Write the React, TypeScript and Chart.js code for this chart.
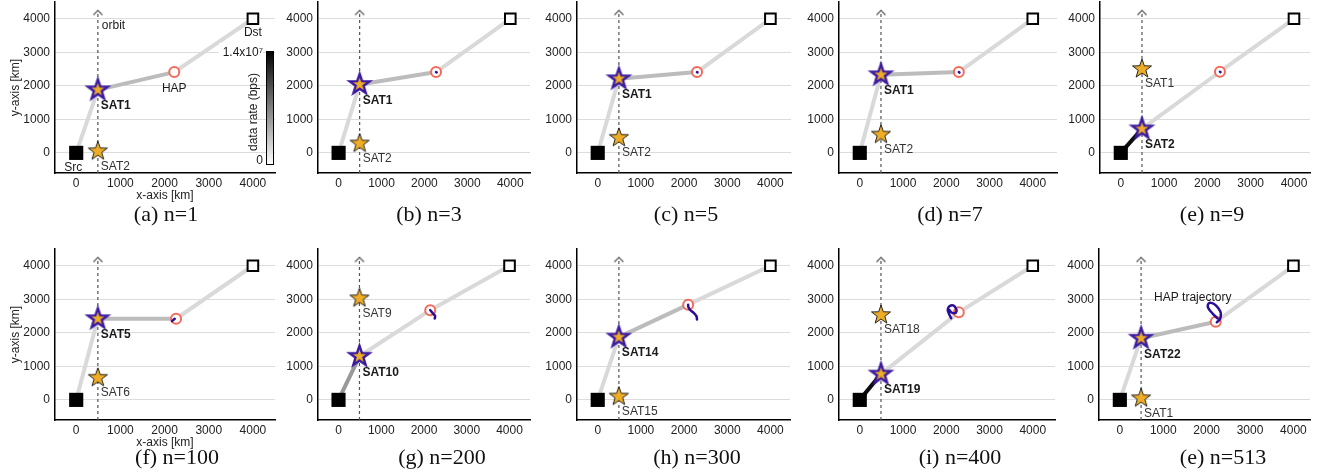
import React, { useEffect, useRef } from 'react';
import { Chart, registerables } from 'chart.js';
Chart.register(...registerables);

// ---------------- data ----------------
const captions = ['(a) n=1', '(b) n=3', '(c) n=5', '(d) n=7', '(e) n=9', '(f) n=100', '(g) n=200', '(h) n=300', '(i) n=400', '(e) n=513'];
const servingSatNames = ['SAT1', 'SAT1', 'SAT1', 'SAT1', 'SAT2', 'SAT5', 'SAT10', 'SAT14', 'SAT19', 'SAT22'];
const servingSatY = [1880, 2040, 2210, 2330, 715, 2420, 1300, 1870, 770, 1840];
const otherSatNames = ['SAT2', 'SAT2', 'SAT2', 'SAT2', 'SAT1', 'SAT6', 'SAT9', 'SAT15', 'SAT18', 'SAT1'];
const otherSatY = [50, 280, 450, 545, 2500, 660, 3030, 100, 2530, 50];
const hapX = [2220, 2270, 2300, 2290, 2290, 2260, 2145, 2095, 2290, 2210];
const hapY = [2410, 2410, 2410, 2410, 2420, 2420, 2675, 2840, 2610, 2330];
const trajX = [
  [],
  [2270, 2285],
  [2300, 2312],
  [2290, 2305],
  [2290, 2302],
  [2171, 2230],
  [2145, 2178, 2222, 2260, 2250],
  [2094, 2100, 2147, 2224, 2286, 2300],
  [2113, 2058, 2035, 2081, 2159, 2220, 2236, 2190, 2113, 2074],
  [2249, 2134, 2042, 2027, 2074, 2173, 2272, 2327, 2304, 2235],
];
const trajY = [
  [],
  [2410, 2400],
  [2410, 2400],
  [2410, 2395],
  [2420, 2410],
  [2350, 2420],
  [2675, 2625, 2560, 2500, 2430],
  [2840, 2771, 2674, 2594, 2497, 2400],
  [2433, 2582, 2701, 2799, 2820, 2740, 2641, 2582, 2612, 2680],
  [2433, 2582, 2731, 2829, 2898, 2859, 2731, 2582, 2403, 2314],
];
// link data rates (bps)
const srcLinkRate = [2.1e6, 2.1e6, 2.1e6, 2.1e6, 1.33e7, 2.1e6, 5.6e6, 2.1e6, 1.33e7, 2.1e6];
const satHapRate = [3.7e6, 3.7e6, 3.7e6, 3.7e6, 2.1e6, 3.7e6, 2.1e6, 3.7e6, 2.1e6, 3.7e6];
const hapDstRate = [2.1e6, 2.1e6, 2.1e6, 2.1e6, 2.1e6, 2.1e6, 2.1e6, 2.1e6, 2.1e6, 2.1e6];
const RATE_MAX = 1.4e7;
const colorbarLabels = ['1.4x10\u2077', '0'];
const xTicks = [0, 1000, 2000, 3000, 4000];
const yTicks = [0, 1000, 2000, 3000, 4000];
const SRC = { x: 0, y: 0 };
const DST = { x: 4000, y: 4000 };
const ORBIT_X = 490;
const ORBIT_TOP = 4250;

// ---------------- layout ----------------
const panelLeft = [55, 318, 577, 839, 1100, 55, 318, 577, 839, 1099];
const panelWidth = [220, 212, 214, 218, 210, 220, 212, 213, 216, 211];
const panelXMax = [4500, 4459, 4477, 4560, 4370, 4500, 4479, 4454, 4514, 4382];
const rowTop = [2, 249];
const PLOT_H = 171;
const X_MIN = -480;
const Y_MIN = -600;
const Y_MAX = 4500;
const Y_AXIS_W = 50;
const X_AXIS_H = 30;
const captionCX = [166, 429, 686, 950, 1212, 177, 442, 697, 960, 1223];
const captionCY = [214, 457];
const SANS = '"Liberation Sans", Arial, sans-serif';

function rateColor(r: number) {
  const v = Math.round(255 * (1 - Math.min(1, r / RATE_MAX)));
  return `rgb(${v},${v},${v})`;
}

function makeStar(R: number, ratio: number, fill: string, stroke: string, lw: number) {
  const pad = Math.ceil(lw * 2) + 2;
  const size = Math.ceil(2 * R + 2 * pad);
  const c = document.createElement('canvas');
  c.width = size;
  c.height = size;
  const g = c.getContext('2d')!;
  const cx = size / 2, cy = size / 2;
  g.beginPath();
  for (let k = 0; k < 10; k++) {
    const rr = k % 2 === 0 ? R : R * ratio;
    const a = -Math.PI / 2 + (k * Math.PI) / 5;
    const px = cx + rr * Math.cos(a), py = cy + rr * Math.sin(a);
    if (k === 0) g.moveTo(px, py); else g.lineTo(px, py);
  }
  g.closePath();
  g.fillStyle = fill;
  g.fill();
  g.lineWidth = lw;
  g.strokeStyle = stroke;
  g.lineJoin = 'miter';
  g.stroke();
  return c;
}

function makeArrow() {
  const c = document.createElement('canvas');
  c.width = 14;
  c.height = 14;
  const g = c.getContext('2d')!;
  g.strokeStyle = '#555';
  g.lineWidth = 1.2;
  g.beginPath();
  g.moveTo(2.5, 11.5);
  g.lineTo(7, 7);
  g.lineTo(11.5, 11.5);
  g.stroke();
  return c;
}

function buildChart(canvas: HTMLCanvasElement, i: number, imgs: any) {
  const pt = (x: number, y: number) => ({ x, y });
  const hap = pt(hapX[i], hapY[i]);
  const sSel = pt(ORBIT_X, servingSatY[i]);
  const sOther = pt(ORBIT_X, otherSatY[i]);
  const traj = trajX[i].map((x, k) => pt(x, trajY[i][k]));
  const showTitles = i === 0 || i === 5;

  const labelPlugin = {
    id: 'panelLabels',
    afterDatasetsDraw(chart: any) {
      const { ctx, scales, chartArea } = chart;
      const px = (v: number) => scales.x.getPixelForValue(v);
      const py = (v: number) => scales.y.getPixelForValue(v);
      ctx.save();
      ctx.fillStyle = '#1a1a1a';
      ctx.textBaseline = 'middle';
      ctx.textAlign = 'left';
      ctx.font = `bold 12px ${SANS}`;
      ctx.fillText(servingSatNames[i], px(ORBIT_X) + 3, py(servingSatY[i]) + 16);
      ctx.fillStyle = '#333';
      ctx.font = `12px ${SANS}`;
      ctx.fillText(otherSatNames[i], px(ORBIT_X) + 3, py(otherSatY[i]) + 15);
      if (i === 0) {
        ctx.fillStyle = '#1a1a1a';
        ctx.font = `12px ${SANS}`;
        ctx.textAlign = 'center';
        ctx.fillText('Src', px(SRC.x) - 3, py(SRC.y) + 15);
        ctx.fillText('Dst', px(DST.x), py(DST.y) + 14);
        ctx.fillText('HAP', px(hapX[i]), py(hapY[i]) + 17);
        ctx.textAlign = 'left';
        ctx.fillText('orbit', px(ORBIT_X) + 4, py(ORBIT_TOP) + 15);
        // colorbar
        const R = chartArea.right;
        const top = chartArea.top + 49;
        const bot = chartArea.top + 163;
        ctx.fillStyle = '#fff';
        ctx.fillRect(R - 56, top - 8, 44, 15);
        const grad = ctx.createLinearGradient(0, top, 0, bot);
        grad.addColorStop(0, '#000');
        grad.addColorStop(1, '#fff');
        ctx.fillStyle = grad;
        ctx.fillRect(R - 9, top, 7, bot - top);
        ctx.strokeStyle = '#000';
        ctx.lineWidth = 1;
        ctx.strokeRect(R - 9 + 0.5, top + 0.5, 7, bot - top - 1);
        ctx.fillStyle = '#1a1a1a';
        ctx.textAlign = 'right';
        ctx.fillText(colorbarLabels[0], R - 12, top + 2);
        ctx.fillText(colorbarLabels[1], R - 12, bot - 4);
        ctx.save();
        ctx.translate(R - 21, (top + bot) / 2 + 4);
        ctx.rotate(-Math.PI / 2);
        ctx.textAlign = 'center';
        ctx.fillText('data rate (bps)', 0, 0);
        ctx.restore();
      }
      if (i === 9) {
        ctx.font = `12px ${SANS}`;
        ctx.textAlign = 'center';
        ctx.fillStyle = '#1a1a1a';
        ctx.fillText('HAP trajectory', px(hapX[i]) - 23, py(hapY[i]) - 24);
      }
      ctx.restore();
    },
  };

  const tickFont = { family: SANS, size: 12 };
  return new Chart(canvas, {
    type: 'scatter',
    data: {
      datasets: [
        {
          data: traj,
          showLine: true,
          borderColor: '#2b0d98',
          borderWidth: 2.5,
          tension: 0.4,
          borderCapStyle: 'round',
          pointRadius: 0,
          order: 0,
        },
        {
          data: [hap],
          pointStyle: 'circle',
          pointRadius: 5,
          pointBorderWidth: 2,
          pointBorderColor: '#f46a5a',
          pointBackgroundColor: '#ffffff',
          order: 1,
        },
        { data: [sSel], pointStyle: imgs.sel, pointRadius: 10, order: 2 },
        { data: [sOther], pointStyle: imgs.reg, pointRadius: 10, order: 2 },
        {
          data: [SRC],
          pointStyle: 'rect',
          pointRadius: 10,
          pointBorderWidth: 0,
          pointBackgroundColor: '#000',
          pointBorderColor: '#000',
          order: 2,
        },
        {
          data: [DST],
          pointStyle: 'rect',
          pointRadius: 7.5,
          pointBorderWidth: 2,
          pointBackgroundColor: '#fff',
          pointBorderColor: '#000',
          order: 2,
        },
        {
          data: [{ x: ORBIT_X, y: Y_MIN }, { x: ORBIT_X, y: ORBIT_TOP }],
          showLine: true,
          borderColor: '#555',
          borderWidth: 1.2,
          borderDash: [3, 3],
          pointRadius: [0, 5],
          pointStyle: ['circle', imgs.arrow],
          order: 4,
        },
        {
          data: [SRC, sSel],
          showLine: true,
          borderColor: rateColor(srcLinkRate[i]),
          borderWidth: 4,
          pointRadius: 0,
          order: 5,
        },
        {
          data: [sSel, hap],
          showLine: true,
          borderColor: rateColor(satHapRate[i]),
          borderWidth: 4,
          pointRadius: 0,
          order: 5,
        },
        {
          data: [hap, DST],
          showLine: true,
          borderColor: rateColor(hapDstRate[i]),
          borderWidth: 4,
          pointRadius: 0,
          order: 5,
        },
      ],
    },
    options: {
      responsive: false,
      animation: false,
      events: [],
      devicePixelRatio: 1,
      layout: { autoPadding: false, padding: { left: 0, top: 2, right: 4, bottom: 0 } },
      plugins: { legend: { display: false }, tooltip: { enabled: false } },
      scales: {
        x: {
          type: 'linear',
          min: X_MIN,
          max: panelXMax[i],
          afterBuildTicks: (s: any) => {
            s.ticks = xTicks.map((v) => ({ value: v }));
          },
          afterFit: (s: any) => {
            s.height = X_AXIS_H;
            s.paddingLeft = 0;
            s.paddingRight = 0;
            s.paddingTop = 0;
            s.paddingBottom = 0;
          },
          grid: { display: false, drawTicks: false },
          border: { display: true, color: '#000', width: 1.5 },
          ticks: {
            font: tickFont,
            color: '#222',
            padding: 3,
            maxRotation: 0,
            autoSkip: false,
            callback: (v: any) => String(v),
          },
          title: {
            display: showTitles,
            text: 'x-axis [km]',
            font: tickFont,
            color: '#222',
            padding: { top: 0, bottom: 0 },
          },
        },
        y: {
          type: 'linear',
          min: Y_MIN,
          max: Y_MAX,
          afterBuildTicks: (s: any) => {
            s.ticks = yTicks.map((v) => ({ value: v }));
          },
          afterFit: (s: any) => {
            s.width = Y_AXIS_W;
            s.paddingLeft = 0;
            s.paddingRight = 0;
            s.paddingTop = 0;
            s.paddingBottom = 0;
          },
          grid: { color: '#dcdcdc', lineWidth: 1, drawTicks: false },
          border: { display: true, color: '#000', width: 1.5 },
          ticks: {
            font: tickFont,
            color: '#222',
            padding: 5,
            autoSkip: false,
            callback: (v: any) => String(v),
          },
          title: {
            display: showTitles,
            text: 'y-axis [km]',
            font: tickFont,
            color: '#222',
            padding: { top: 3, bottom: 0 },
          },
        },
      },
    } as any,
    plugins: [labelPlugin],
  } as any);
}

export default function App() {
  const refs = useRef<(HTMLCanvasElement | null)[]>([]);
  useEffect(() => {
    const imgs = {
      sel: makeStar(10.5, 0.4, '#efad26', '#3b1aa0', 2.4),
      reg: makeStar(10, 0.4, '#efad26', '#222', 1),
      arrow: makeArrow(),
    };
    const charts: Chart[] = [];
    for (let i = 0; i < 10; i++) {
      const c = refs.current[i];
      if (c) charts.push(buildChart(c, i, imgs));
    }
    return () => charts.forEach((c) => c.destroy());
  }, []);

  return (
    <div style={{ position: 'absolute', left: 0, top: 0, width: 1325, height: 472, background: '#fff', overflow: 'hidden' }}>
      {captions.map((cap, i) => {
        const row = i < 5 ? 0 : 1;
        const w = Y_AXIS_W + panelWidth[i] + 4;
        const h = 2 + PLOT_H + X_AXIS_H;
        return (
          <React.Fragment key={i}>
            <canvas
              ref={(el) => {
                refs.current[i] = el;
              }}
              width={w}
              height={h}
              style={{ position: 'absolute', left: panelLeft[i] - Y_AXIS_W, top: rowTop[row] - 2, width: w, height: h }}
            />
            <div
              style={{
                position: 'absolute',
                left: captionCX[i],
                top: captionCY[row],
                transform: 'translate(-50%, -50%)',
                font: '22px "Liberation Serif", "Times New Roman", serif',
                lineHeight: 1,
                whiteSpace: 'nowrap',
                color: '#111',
              }}
            >
              {cap}
            </div>
          </React.Fragment>
        );
      })}
    </div>
  );
}
